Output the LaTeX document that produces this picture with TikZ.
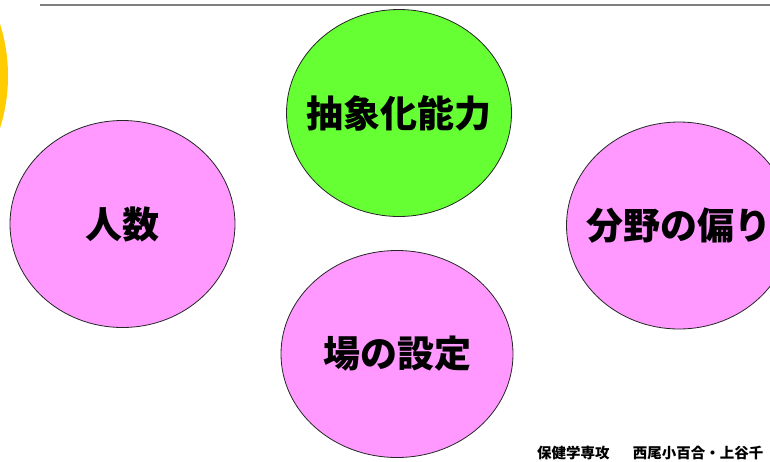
\documentclass[tikz,border=0pt]{standalone}
\usepackage{fontspec}
\newfontfamily\cjk{Noto Sans CJK JP}
\usetikzlibrary{shapes.geometric}
\definecolor{pinkfill}{HTML}{FF99FF}
\definecolor{greenfill}{HTML}{66FF33}
\definecolor{sunyellow}{HTML}{FFCC00}
\definecolor{rulegray}{HTML}{7F7F7F}
\tikzset{
  bubble/.style={ellipse, draw=black!85, line width=0.8pt, inner xsep=-25pt, inner ysep=-20pt,
    minimum width=225pt, minimum height=207pt, font=\cjk\bfseries\fontsize{37}{40}\selectfont},
  pinkbubble/.style={bubble, fill=pinkfill},
  greenbubble/.style={bubble, fill=greenfill},
}
\begin{document}
\begin{tikzpicture}[x=1pt,y=-1pt]
\useasboundingbox (0,0) rectangle (770,461);
\clip (0,0) rectangle (770,461);
\fill[white] (0,0) rectangle (770,461);
% yellow arc at the left edge
\fill[sunyellow] (-165,76) circle (173);
% top rule
\draw[rulegray, line width=2pt] (40,4.5) -- (780,4.5);
% bubbles
\node[greenbubble] (abs) at (399,113) {抽象化能力};
\node[pinkbubble] (num) at (122.5,224) {人数};
\node[pinkbubble] (bias) at (679,225.5) {分野の偏り};
\node[pinkbubble, minimum width=232pt] (place) at (397,354) {場の設定};
% credit
\node[anchor=west, font=\cjk\bfseries\fontsize{14.5}{15}\selectfont, inner sep=0pt] (credit) at (537,453) {保健学専攻\hspace{1.6em}西尾小百合・上谷千};
\end{tikzpicture}
\end{document}
